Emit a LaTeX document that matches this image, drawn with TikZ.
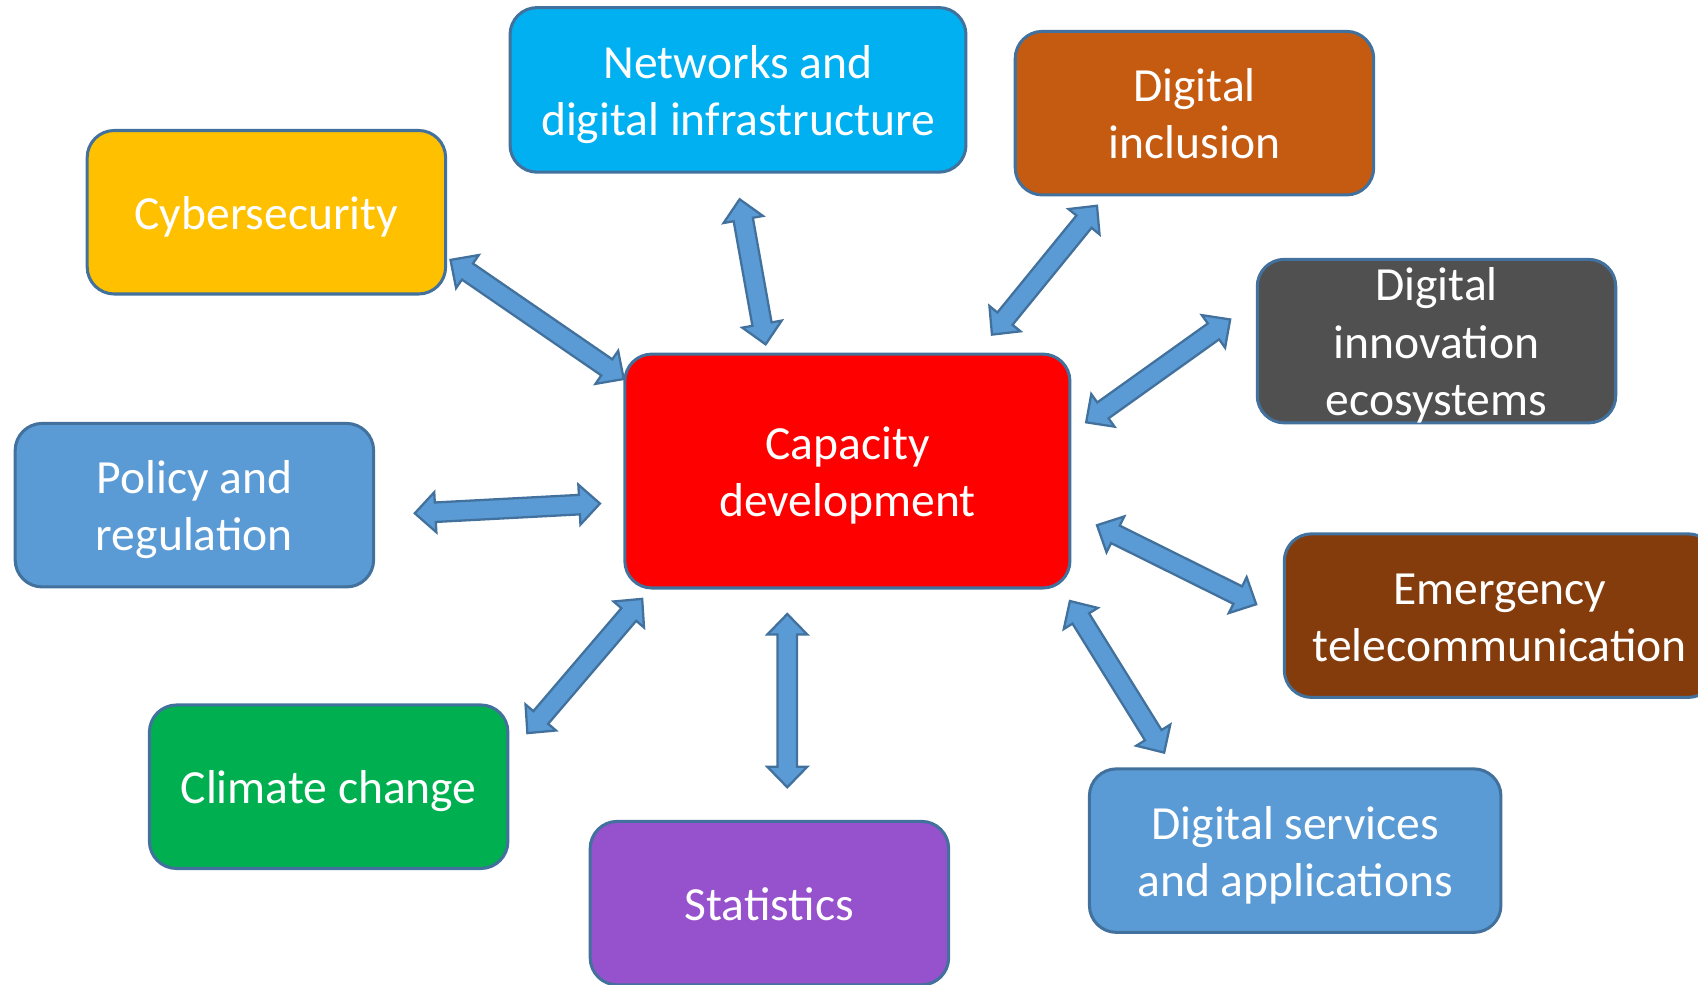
\documentclass[tikz,border=0pt]{standalone}
\usepackage{fontspec}
\setmainfont{Carlito}
\usetikzlibrary{calc}
\definecolor{edgeblue}{HTML}{41719C}
\definecolor{arrowblue}{HTML}{5B9BD5}
\definecolor{netcyan}{HTML}{00B0F0}
\definecolor{inclorange}{HTML}{C55A11}
\definecolor{cybyellow}{HTML}{FFC000}
\definecolor{innovgrey}{HTML}{505050}
\definecolor{emergbrown}{HTML}{843C0C}
\definecolor{climgreen}{HTML}{00B050}
\definecolor{statpurple}{HTML}{9651CD}
\newcommand{\headlen}{0.19cm}
\newcommand{\headwid}{0.185cm}
\newcommand{\shaftwid}{0.09cm}
\newcommand{\dblarrow}[2]{%
    \draw[blockarrow] let \p1=(#1), \p2=(#2), \n1={atan2(\y2-\y1,\x2-\x1)} in
        (\p1) -- ($(\p1)+(\n1:\headlen)+(\n1+90:\headwid)$)
        -- ($(\p1)+(\n1:\headlen)+(\n1+90:\shaftwid)$)
        -- ($(\p2)+(\n1+180:\headlen)+(\n1+90:\shaftwid)$)
        -- ($(\p2)+(\n1+180:\headlen)+(\n1+90:\headwid)$)
        -- (\p2)
        -- ($(\p2)+(\n1+180:\headlen)+(\n1-90:\headwid)$)
        -- ($(\p2)+(\n1+180:\headlen)+(\n1-90:\shaftwid)$)
        -- ($(\p1)+(\n1:\headlen)+(\n1-90:\shaftwid)$)
        -- ($(\p1)+(\n1:\headlen)+(\n1-90:\headwid)$)
        -- cycle;
}
\tikzset{
    topic/.style={draw=edgeblue, line width=0.8pt, rounded corners=0.25cm,
        text=white, align=flush center, text width=3cm,
        minimum width=3.31cm, minimum height=1.51cm,
        font=\fontsize{12.5}{15}\selectfont,
        execute at begin node={\rule{0pt}{12pt}},
        execute at end node={\rule[-3.1pt]{0pt}{3.1pt}}},
    blockarrow/.style={draw=edgeblue, fill=arrowblue, line width=0.6pt, line join=miter}
}

\begin{document}
\begin{tikzpicture}
\useasboundingbox (0,0) rectangle (15.68,9.09);

% centre box
\node[topic, fill=red, text width=3.8cm, minimum width=4.11cm, minimum height=2.16cm] (cap) at (7.825, 4.74) {Capacity\\development};

% surrounding boxes
\node[topic, fill=netcyan, text width=3.9cm, minimum width=4.21cm, minimum height=1.52cm] (net) at (6.815, 8.26) {Networks and\\digital infrastructure};
\node[topic, fill=inclorange] (incl) at (11.03, 8.045) {Digital\\inclusion};
\node[topic, fill=cybyellow] (cyb) at (2.46, 7.13) {Cybersecurity};
\node[topic, fill=innovgrey, inner ysep=-0.05cm] (innov) at (13.265, 5.94) {Digital\\innovation\\ecosystems};
\node[topic, fill=arrowblue] (pol) at (1.795, 4.425) {Policy and\\regulation};
\node[topic, fill=emergbrown, text width=3.6cm, minimum width=3.98cm] (emerg) at (13.85, 3.405) {Emergency\\telecommunication};
\node[topic, fill=climgreen] (clim) at (3.035, 1.825) {Climate change};
\node[topic, fill=statpurple] (stat) at (7.105, 0.75) {Statistics};
\node[topic, fill=arrowblue, text width=3.4cm, minimum width=3.8cm] (serv) at (11.96, 1.235) {Digital services\\and applications};

% arrow ends
\coordinate (cybA) at (4.16, 6.69);    \coordinate (cybB) at (5.76, 5.59);
\coordinate (netA) at (6.83, 7.25);    \coordinate (netB) at (7.07, 5.91);
\coordinate (inclA) at (10.13, 7.19);  \coordinate (inclB) at (9.16, 6.00);
\coordinate (innovA) at (11.36, 6.14); \coordinate (innovB) at (10.03, 5.19);
\coordinate (polA) at (3.83, 4.35);    \coordinate (polB) at (5.54, 4.44);
\coordinate (emergA) at (10.13, 4.24); \coordinate (emergB) at (11.60, 3.51);
\coordinate (servA) at (9.88, 3.54);   \coordinate (servB) at (10.75, 2.14);
\coordinate (statA) at (7.27, 3.42);   \coordinate (statB) at (7.27, 1.82);
\coordinate (climA) at (5.93, 3.56);   \coordinate (climB) at (4.87, 2.32);

\foreach \from/\to in {cybA/cybB, netA/netB, inclA/inclB, innovA/innovB, polA/polB,
    emergA/emergB, servA/servB, statA/statB, climA/climB}
    \dblarrow{\from}{\to};

\end{tikzpicture}
\end{document}
